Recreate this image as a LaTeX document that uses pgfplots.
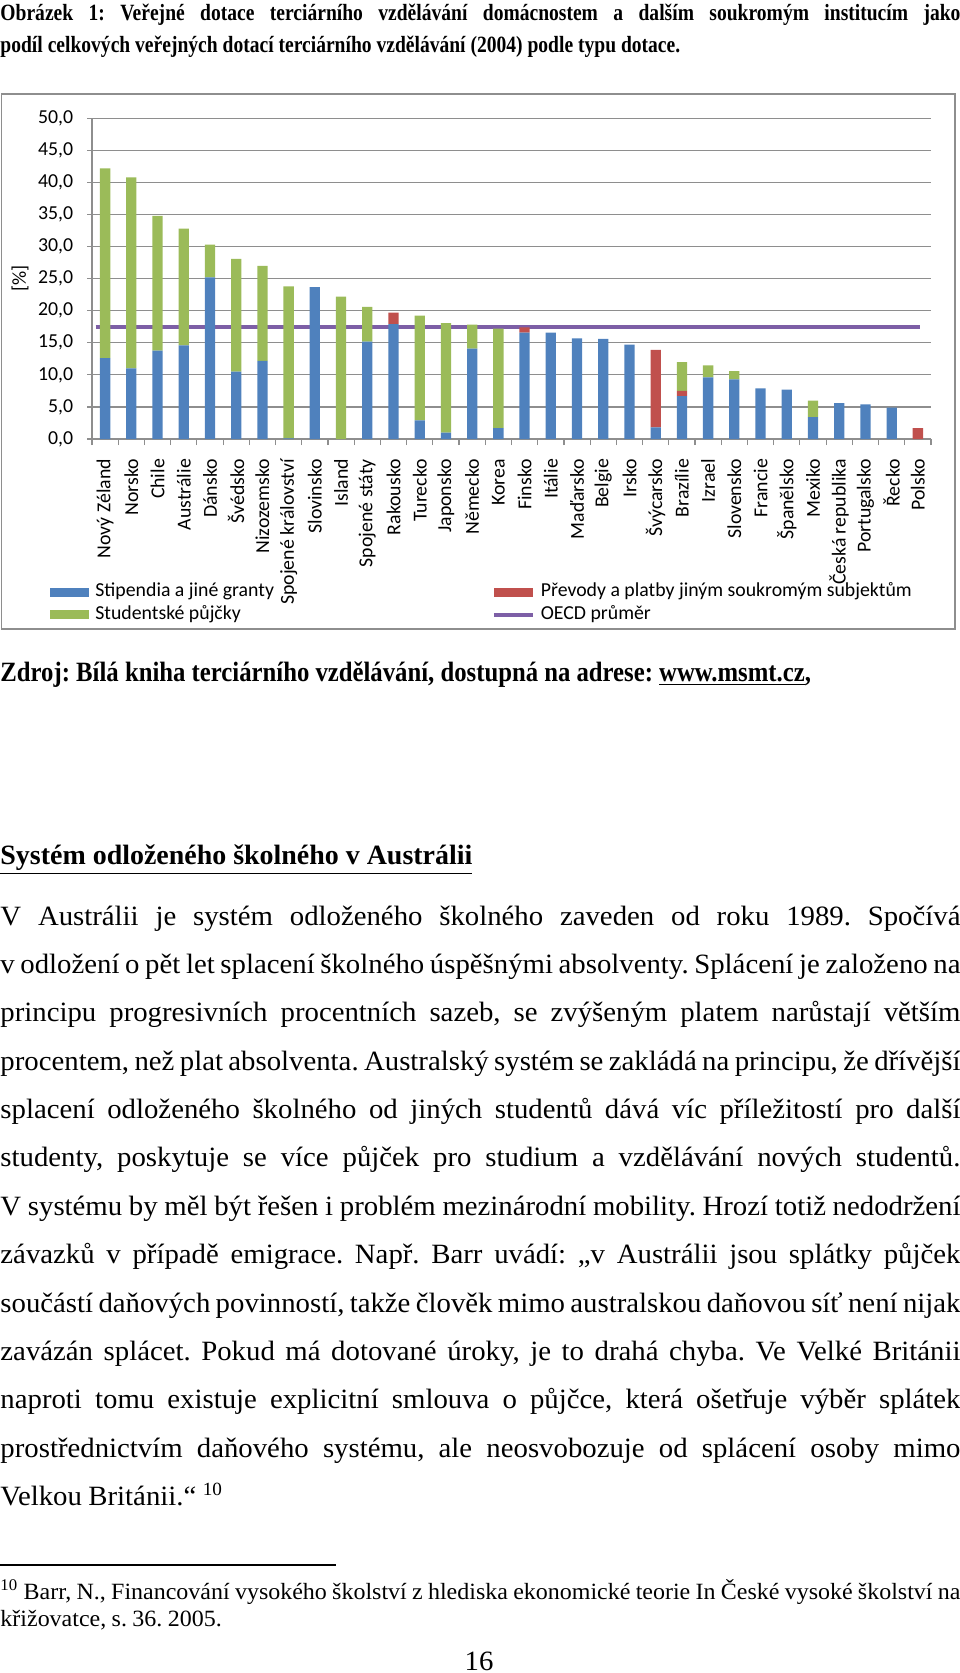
\documentclass[border=0pt]{standalone}
\usepackage{fontspec}
\setmainfont{Liberation Serif}[FakeStretch=1.03, WordSpace={0.9,1.2,1.5}]
\newfontfamily\capfont{Liberation Serif}[FakeStretch=0.84]
\newfontfamily\srcfont{Liberation Serif}[FakeStretch=0.885]
\newfontfamily\headfont{Liberation Serif}[FakeStretch=1.0]
\newfontfamily\chartfont{Carlito}
\usepackage{pgfplots}
\usepackage{pgfplotstable}
\pgfplotsset{compat=1.18}

\definecolor{cblue}{HTML}{4F81BD}
\definecolor{cgreen}{HTML}{9BBB59}
\definecolor{cred}{HTML}{C0504D}
\definecolor{cpurple}{HTML}{7D5FA6}
\definecolor{cgrid}{HTML}{8E8E8E}

\newcommand\pxu{0.4295pt}
\newcommand\chartsize{\chartfont\fontsize{8.5}{10}\selectfont}

\pgfplotsset{
  swatch/.style={legend image code/.code={\fill[##1] (0pt,-1.95pt) rectangle (16.7pt,1.95pt);}},
  linesw/.style={legend image code/.code={\draw[##1] (0pt,0pt) -- (16.7pt,0pt);}},
}

% x: category, grants = blue, transfers = red, loans = green
\pgfplotstableread{
x  grants transfers loans
1  12.6   0     29.6
2  11.0   0     29.8
3  13.8   0     21.0
4  14.6   0     18.2
5  25.2   0     5.1
6  10.5   0     17.6
7  12.2   0     14.8
8  0.1    0     23.7
9  23.7   0     0
10 0      0     22.2
11 15.2   0     5.4
12 17.9   1.8   0
13 2.9    0     16.35
14 1.0    0     17.05
15 14.1   0     3.75
16 1.7    0     15.5
17 16.6   0.8   0
18 16.6   0     0
19 15.7   0     0
20 15.6   0     0
21 14.7   0     0
22 1.8    12.1  0
23 6.7    0.8   4.5
24 9.6    0     1.9
25 9.3    0     1.3
26 7.9    0     0
27 7.7    0     0
28 3.4    0     2.6
29 5.6    0     0
30 5.4    0     0
31 4.9    0     0
32 0      1.7   0
}\datatable

\begin{document}
\hyphenpenalty=10000 \exhyphenpenalty=10000 \tolerance=10000 \frenchspacing
\begin{tikzpicture}
\path[use as bounding box] (0,0) rectangle (960*\pxu,-1673*\pxu);

% caption
\node[anchor=base west, inner sep=0, text width=960*\pxu, align=justify,
      font=\capfont\bfseries\fontsize{10}{13.74}\selectfont] at (0,-20*\pxu)
  {Obrázek 1: Veřejné dotace terciárního vzdělávání domácnostem a dalším soukromým institucím jako\linebreak
   podíl celkových veřejných dotací terciárního vzdělávání (2004) podle typu dotace.};

% chart frame
\draw[cgrid, line width=0.8pt] (1.5*\pxu,-94*\pxu) rectangle (955*\pxu,-629*\pxu);

\begin{axis}[
  at={(92*\pxu,-439*\pxu)}, anchor=south west,
  width=360.35pt, height=137.74pt, scale only axis,
  xmin=0.5, xmax=32.5, ymin=0, ymax=50,
  ybar stacked, bar width=4.42pt,
  axis lines*=left,
  axis line style={cgrid, line width=0.5pt},
  ymajorgrids, major grid style={cgrid, line width=0.5pt},
  ytick={0,5,...,50},
  xtick={1,...,32},
  minor xtick={0.5,1.5,...,32.5},
  tick align=outside,
  major tick length=2.1pt, minor tick length=2.6pt,
  tick style={cgrid, line width=0.5pt},
  major x tick style={draw=none},
  xticklabels={Nový Zéland, Norsko, Chile, Austrálie, Dánsko, Švédsko, Nizozemsko,
    Spojené království, Slovinsko, Island, Spojené státy, Rakousko, Turecko, Japonsko,
    Německo, Korea, Finsko, Itálie, Maďarsko, Belgie, Irsko, Švýcarsko, Brazílie,
    Izrael, Slovensko, Francie, Španělsko, Mexiko, Česká republika, Portugalsko,
    Řecko, Polsko},
  xticklabel style={rotate=90, anchor=east, font=\chartsize},
  xticklabel shift=3pt,
  yticklabel style={font=\chartsize, /pgf/number format/.cd, fixed, fixed zerofill,
    precision=1, use comma, assume math mode=true},
  yticklabel shift=2.5pt,
  ylabel={[\%]}, ylabel style={font=\chartsize, anchor=center,
    at={(axis description cs:-0.0858,0.5)}},
  legend columns=2,
  legend style={draw=none, fill=none, inner sep=0pt, font=\chartsize,
    at={(axis description cs:-0.0501,-0.443)}, anchor=north west,
    nodes={inner sep=0.6pt, text height=6pt, text depth=2pt},
    row sep=0.5pt,
    /tikz/every odd column/.append style={column sep=2pt},
    /tikz/every even column/.append style={column sep=93pt}},
  legend cell align=left,
]
\addplot[fill=cblue, draw=none, swatch] table[x=x, y=grants] {\datatable};
\addlegendentry{Stipendia a jiné granty}
\addplot[fill=cred, draw=none, swatch] table[x=x, y=transfers] {\datatable};
\addlegendentry{Převody a platby jiným soukromým subjektům}
\addplot[fill=cgreen, draw=none, swatch] table[x=x, y=loans] {\datatable};
\addlegendentry{Studentské půjčky}
\addplot[cpurple, line width=1.7pt, sharp plot, stack plots=false, linesw]
  coordinates {(0.64,17.5) (32.08,17.5)};
\addlegendentry{OECD průměr}
\end{axis}

% source line
\node[anchor=base west, inner sep=0, font=\srcfont\bfseries\fontsize{12}{13.8}\selectfont]
  at (0,-681*\pxu)
  {Zdroj: Bílá kniha terciárního vzdělávání, dostupná na adrese: \underline{www.msmt.cz},};

% heading
\node[anchor=base west, inner sep=0, font=\headfont\bfseries\fontsize{12}{13.8}\selectfont]
  at (0,-864*\pxu) {\underline{Systém odloženého školného v Austrálii}};

% body
\node[anchor=base west, inner sep=0, text width=960*\pxu, align=justify,
      font=\fontsize{12}{20.78}\selectfont] at (0,-925*\pxu)
  {V Austrálii je systém odloženého školného zaveden od roku 1989. Spočívá\linebreak
   v odložení o pět let splacení školného úspěšnými absolventy. Splácení je založeno na\linebreak
   principu progresivních procentních sazeb, se zvýšeným platem narůstají větším\linebreak
   procentem, než plat absolventa. Australský systém se zakládá na principu, že dřívější\linebreak
   splacení odloženého školného od jiných studentů dává víc příležitostí pro další\linebreak
   studenty, poskytuje se více půjček pro studium a vzdělávání nových studentů.\linebreak
   V systému by měl být řešen i problém mezinárodní mobility. Hrozí totiž nedodržení\linebreak
   závazků v případě emigrace. Např. Barr uvádí: „v Austrálii jsou splátky půjček\linebreak
   součástí daňových povinností, takže člověk mimo australskou daňovou síť není nijak\linebreak
   zavázán splácet. Pokud má dotované úroky, je to drahá chyba. Ve Velké Británii\linebreak
   naproti tomu existuje explicitní smlouva o půjčce, která ošetřuje výběr splátek\linebreak
   prostřednictvím daňového systému, ale neosvobozuje od splácení osoby mimo\linebreak
   Velkou Británii.“ \textsuperscript{10}};

% footnote
\draw[line width=0.6pt] (0,-1565*\pxu) -- (336*\pxu,-1565*\pxu);
\node[anchor=base west, inner sep=0, text width=960*\pxu, align=justify,
      font=\fontsize{10}{11.6}\selectfont] at (0,-1599*\pxu)
  {\textsuperscript{10} Barr, N., Financování vysokého školství z hlediska ekonomické teorie In České vysoké školství na\linebreak
   křižovatce, s. 36. 2005.};

% page number
\node[anchor=base, inner sep=0, font=\fontsize{12}{13.8}\selectfont] at (479*\pxu,-1670*\pxu) {16};
\end{tikzpicture}
\end{document}
